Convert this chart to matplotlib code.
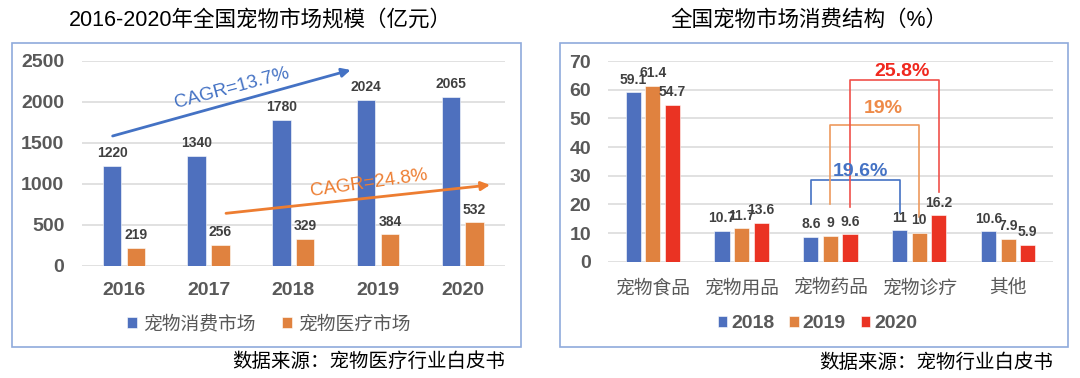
import numpy as np
import matplotlib
matplotlib.use("Agg")
import matplotlib.pyplot as plt
from matplotlib.patches import Rectangle

plt.rcParams['font.family'] = ['Liberation Sans', 'Noto Sans CJK SC']

# ---------------- dados: grafico da esquerda ----------------
anos = ['2016', '2017', '2018', '2019', '2020']
consumo = [1220, 1340, 1780, 2024, 2065]
medico = [219, 256, 329, 384, 532]

# ---------------- dados: grafico da direita ----------------
categorias = ['宠物食品', '宠物用品', '宠物药品', '宠物诊疗', '其他']
s2018 = [59.1, 10.7, 8.6, 11, 10.6]
s2019 = [61.4, 11.7, 9, 10, 7.9]
s2020 = [54.7, 13.6, 9.6, 16.2, 5.9]

azul = '#4E70BE'
laranja = '#E0823F'
vermelho = '#EA3323'
cinza = '#595959'
rotulo = '#404040'
borda = '#8FAADC'

fig = plt.figure(figsize=(10.8, 3.78), dpi=100)

W, H = 1080, 378


def px(x, y):
    return x / W, 1 - y / H


# molduras
for x0, x1 in [(12, 521), (560, 1068)]:
    fig.add_artist(Rectangle(px(x0, 347.3), (x1 - x0) / W, (347.3 - 42.7) / H,
                             transform=fig.transFigure, fill=False,
                             ec=borda, lw=1.2))

# titulos
fig.text(*px(260.8, 20), '2016-2020年全国宠物市场规模（亿元）',
         ha='center', va='center', fontsize=15.5, color='black')
fig.text(*px(809, 20), '全国宠物市场消费结构（%）',
         ha='center', va='center', fontsize=15.5, color='black')

# fontes
fig.text(*px(505, 361.7), '数据来源：宠物医疗行业白皮书',
         ha='right', va='center', fontsize=14, color='black')
fig.text(*px(1053, 362.7), '数据来源：宠物行业白皮书',
         ha='right', va='center', fontsize=14, color='black')


def estilo(ax):
    for s in ax.spines.values():
        s.set_visible(False)
    ax.grid(axis='y', color='#D9D9D9', lw=1.1, zorder=0)
    ax.set_axisbelow(True)
    ax.tick_params(length=0)


def rotular(ax, xs, vals):
    for xi, v in zip(xs, vals):
        ax.annotate(f'{v:g}', (xi, v), xytext=(0, 4), textcoords='offset points',
                    ha='center', va='bottom', fontsize=10, fontweight='bold',
                    color=rotulo, zorder=6)


# ============================================================
# grafico da esquerda
# ============================================================
ax1 = fig.add_axes([0.0756, 0.297, 0.392, 0.5417])
estilo(ax1)
x = np.arange(len(anos))
b1 = ax1.bar(x - 0.14, consumo, 0.22, color=azul, ec='white', lw=0.4, zorder=3)
b2 = ax1.bar(x + 0.14, medico, 0.22, color=laranja, ec='white', lw=0.4, zorder=3)
rotular(ax1, x - 0.14, consumo)
rotular(ax1, x + 0.14, medico)
ax1.set_xlim(-0.5, 4.5)
ax1.set_ylim(0, 2500)
ax1.set_yticks(np.arange(0, 2501, 500))
ax1.set_xticks(x, anos)
ax1.tick_params(axis='y', pad=12.5)
ax1.tick_params(axis='x', pad=12)
for t in ax1.get_xticklabels() + ax1.get_yticklabels():
    t.set_fontsize(14)
    t.set_fontweight('bold')
    t.set_color(cinza)

ax1.annotate('', xy=(2.677, 2390), xytext=(-0.134, 1584),
             arrowprops=dict(arrowstyle='-|>', color='#4472C4', lw=2,
                             mutation_scale=13, shrinkA=0, shrinkB=0), zorder=5)
ax1.text(1.272, 2170, 'CAGR=13.7%', rotation=15, color='#4472C4', fontsize=13.5,
         ha='center', va='center', rotation_mode='anchor', zorder=5)
ax1.annotate('', xy=(4.323, 986), xytext=(1.205, 640),
             arrowprops=dict(arrowstyle='-|>', color='#ED7D31', lw=2,
                             mutation_scale=13, shrinkA=0, shrinkB=0), zorder=5)
ax1.text(2.894, 1010, 'CAGR=24.8%', rotation=8, color='#ED7D31', fontsize=13.5,
         ha='center', va='center', rotation_mode='anchor', zorder=5)

ax1.legend([b1, b2], ['宠物消费市场', '宠物医疗市场'], loc='center',
           bbox_to_anchor=px(268.8, 324.5), bbox_transform=fig.transFigure,
           ncol=2, frameon=False, handlelength=0.53, handleheight=0.53,
           handletextpad=0.34, columnspacing=1.37, labelcolor=cinza,
           prop={'size': 13.5})

# ============================================================
# grafico da direita
# ============================================================
ax2 = fig.add_axes([0.5632, 0.3077, 0.4115, 0.5309])
estilo(ax2)
x = np.arange(len(categorias))
c1 = ax2.bar(x - 0.22, s2018, 0.17, color=azul, ec='white', lw=0.4, zorder=3)
c2 = ax2.bar(x, s2019, 0.17, color=laranja, ec='white', lw=0.4, zorder=3)
c3 = ax2.bar(x + 0.22, s2020, 0.17, color=vermelho, ec='white', lw=0.4, zorder=3)
rotular(ax2, x - 0.22, s2018)
rotular(ax2, x, s2019)
rotular(ax2, x + 0.22, s2020)
ax2.set_xlim(-0.5, 4.5)
ax2.set_ylim(0, 70)
ax2.set_yticks(np.arange(0, 71, 10))
ax2.set_xticks(x, categorias)
ax2.tick_params(axis='y', pad=12.5)
ax2.tick_params(axis='x', pad=13)
for t in ax2.get_yticklabels():
    t.set_fontsize(14)
    t.set_fontweight('bold')
    t.set_color(cinza)
for t in ax2.get_xticklabels():
    t.set_fontsize(13.5)
    t.set_color(cinza)

# colchetes de crescimento
ax2.plot([1.78, 1.78, 2.78, 2.78], [20.1, 28.5, 28.5, 17.0], color='#4472C4', lw=1.2, zorder=4)
ax2.plot([2.0, 2.0, 3.0, 3.0], [20.1, 47.7, 47.7, 15.6], color='#EE9A5E', lw=1.2, zorder=4)
ax2.plot([2.22, 2.22, 3.22, 3.22], [19.1, 63.4, 63.4, 24.3], color='#F0504A', lw=1.2, zorder=4)
ax2.text(2.80, 66.2, '25.8%', color='#F0281E', fontsize=14, fontweight='bold',
         ha='center', va='center', zorder=6)
ax2.text(2.59, 53.6, '19%', color='#EE8A48', fontsize=14, fontweight='bold',
         ha='center', va='center', zorder=6)
ax2.text(2.34, 31.3, '19.6%', color='#4472C4', fontsize=14, fontweight='bold',
         ha='center', va='center', zorder=6)

ax2.legend([c1, c2, c3], ['2018', '2019', '2020'], loc='center',
           bbox_to_anchor=px(817.5, 324), bbox_transform=fig.transFigure,
           ncol=3, frameon=False, handlelength=0.48, handleheight=0.48,
           handletextpad=0.22, columnspacing=0.75, labelcolor=cinza,
           prop={'size': 14, 'weight': 'bold'})

fig.savefig('out.png', dpi=100)
